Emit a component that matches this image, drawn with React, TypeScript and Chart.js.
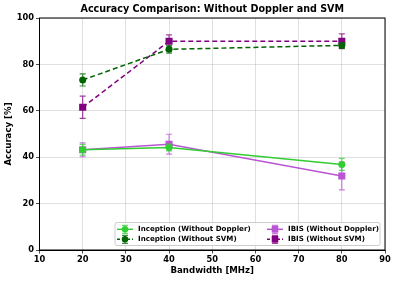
import React, { useEffect, useRef } from "react";
import { Chart, registerables } from "chart.js";

Chart.register(...registerables);

const bandwidths = [20, 40, 80];
const inceptionWD = [43.2, 44.2, 36.9];
const inceptionWDErr = [2.3, 1.5, 2.6];
const inceptionWS = [73.3, 86.5, 88.2];
const inceptionWSErr = [2.6, 1.6, 1.2];
const ibisWD = [43.2, 45.6, 31.9];
const ibisWDErr = [3.0, 4.3, 6.0];
const ibisWS = [61.5, 90.0, 90.0];
const ibisWSErr = [4.8, 2.7, 3.2];
const xTicks = [10, 20, 30, 40, 50, 60, 70, 80, 90];
const yTicks = [0, 20, 40, 60, 80, 100];

const FONT = "'DejaVu Sans', sans-serif";

const seriesDefs = [
  { label: "Inception (Without Doppler)", data: inceptionWD, err: inceptionWDErr, color: "#32CD32", errColor: "rgba(50,205,50,0.75)", dash: [] as number[], style: "circle" },
  { label: "Inception (Without SVM)", data: inceptionWS, err: inceptionWSErr, color: "#006400", errColor: "rgba(0,100,0,0.75)", dash: [5, 3], style: "circle" },
  { label: "IBIS (Without Doppler)", data: ibisWD, err: ibisWDErr, color: "#BA55D3", errColor: "rgba(186,85,211,0.75)", dash: [] as number[], style: "rect" },
  { label: "IBIS (Without SVM)", data: ibisWS, err: ibisWSErr, color: "#800080", errColor: "rgba(128,0,128,0.75)", dash: [5, 3], style: "rect" },
];

const errorBarPlugin = {
  id: "errorBars",
  beforeDatasetDraw(chart: any, args: any) {
    const def = seriesDefs[args.index];
    const xs = chart.scales.x;
    const ys = chart.scales.y;
    const ctx = chart.ctx;
    ctx.save();
    ctx.strokeStyle = def.errColor;
    ctx.lineWidth = 1.2;
    def.data.forEach((v: number, i: number) => {
      const x = xs.getPixelForValue(bandwidths[i]);
      const yt = ys.getPixelForValue(v + def.err[i]);
      const yb = ys.getPixelForValue(v - def.err[i]);
      ctx.beginPath();
      ctx.moveTo(x, yt);
      ctx.lineTo(x, yb);
      ctx.moveTo(x - 3, yt);
      ctx.lineTo(x + 3, yt);
      ctx.moveTo(x - 3, yb);
      ctx.lineTo(x + 3, yb);
      ctx.stroke();
    });
    ctx.restore();
  },
};

const framePlugin = {
  id: "frame",
  afterDraw(chart: any) {
    const ctx = chart.ctx;
    const a = chart.chartArea;
    ctx.save();
    ctx.strokeStyle = "#000";
    ctx.lineWidth = 1;
    ctx.strokeRect(a.left, a.top, a.right - a.left, a.bottom - a.top);
    // title
    ctx.fillStyle = "#000";
    ctx.font = `bold 9.6px ${FONT}`;
    ctx.textAlign = "center";
    ctx.textBaseline = "middle";
    ctx.fillText("Accuracy Comparison: Without Doppler and SVM", (a.left + a.right) / 2, 9);
    // legend
    const bx = 115, by = 222.5, bw = 265, bh = 23;
    ctx.fillStyle = "rgba(255,255,255,0.85)";
    ctx.strokeStyle = "#cccccc";
    ctx.beginPath();
    (ctx as any).roundRect(bx, by, bw, bh, 2);
    ctx.fill();
    ctx.stroke();
    const pos = [
      [117, 229.3],
      [117, 239.3],
      [267, 229.3],
      [267, 239.3],
    ];
    seriesDefs.forEach((d, i) => {
      const [lx, ly] = pos[i];
      ctx.strokeStyle = d.color;
      ctx.lineWidth = 1.5;
      ctx.setLineDash(d.dash.length ? [3, 2] : []);
      ctx.beginPath();
      ctx.moveTo(lx, ly);
      ctx.lineTo(lx + 16, ly);
      ctx.stroke();
      ctx.setLineDash([]);
      const cx = lx + 8;
      ctx.strokeStyle = d.errColor;
      ctx.lineWidth = 1.2;
      ctx.beginPath();
      ctx.moveTo(cx, ly - 4);
      ctx.lineTo(cx, ly + 4);
      ctx.moveTo(cx - 3, ly - 4);
      ctx.lineTo(cx + 3, ly - 4);
      ctx.moveTo(cx - 3, ly + 4);
      ctx.lineTo(cx + 3, ly + 4);
      ctx.stroke();
      ctx.fillStyle = d.color;
      ctx.beginPath();
      if (d.style === "circle") {
        ctx.arc(cx, ly, 3.2, 0, Math.PI * 2);
      } else {
        ctx.rect(cx - 3.3, ly - 3.3, 6.6, 6.6);
      }
      ctx.fill();
      ctx.fillStyle = "#000";
      ctx.font = `bold 7.1px ${FONT}`;
      ctx.textAlign = "left";
      ctx.textBaseline = "middle";
      ctx.fillText(d.label, lx + 21, ly);
    });
    ctx.restore();
  },
};

export default function App() {
  const ref = useRef<HTMLCanvasElement>(null);
  useEffect(() => {
    if (!ref.current) return;
    const chart = new Chart(ref.current, {
      type: "line",
      data: {
        datasets: seriesDefs.map((d) => ({
          label: d.label,
          data: d.data.map((v, i) => ({ x: bandwidths[i], y: v })),
          borderColor: d.color,
          backgroundColor: d.color,
          borderWidth: 1.5,
          borderDash: d.dash,
          pointStyle: d.style as any,
          pointRadius: d.style === "circle" ? 3.5 : 5,
          pointBorderWidth: 0,
          tension: 0,
        })),
      },
      options: {
        animation: false,
        responsive: false,
        layout: { padding: { top: 18, right: 12, left: 0, bottom: 0 } },
        plugins: {
          legend: { display: false },
          title: { display: false },
          tooltip: { enabled: false },
        },
        scales: {
          x: {
            type: "linear",
            min: 10,
            max: 90,
            afterBuildTicks: (s: any) => {
              s.ticks = xTicks.map((v) => ({ value: v }));
            },
            afterFit: (s: any) => {
              s.height = 31;
            },
            ticks: {
              color: "#000",
              font: { family: FONT, size: 8.3, weight: "bold" },
              padding: 1,
              maxRotation: 0,
            },
            grid: {
              color: "rgba(180,180,180,0.6)",
              borderDash: [2, 2],
              tickColor: "#000",
              tickBorderDash: [],
              tickLength: 3.5,
              lineWidth: 0.7,
            } as any,
            border: { color: "#000", width: 1 } as any,
            title: {
              display: true,
              text: "Bandwidth [MHz]",
              color: "#000",
              font: { family: FONT, size: 8.6, weight: "bold" },
              padding: { top: 0, bottom: 5 },
            },
          },
          y: {
            type: "linear",
            min: 0,
            max: 100,
            afterBuildTicks: (s: any) => {
              s.ticks = yTicks.map((v) => ({ value: v }));
            },
            afterFit: (s: any) => {
              s.width = 39.5;
            },
            ticks: {
              color: "#000",
              font: { family: FONT, size: 8.3, weight: "bold" },
              padding: 2,
            },
            grid: {
              color: "rgba(180,180,180,0.6)",
              borderDash: [2, 2],
              tickColor: "#000",
              tickBorderDash: [],
              tickLength: 3.5,
              lineWidth: 0.7,
            } as any,
            border: { color: "#000", width: 1 } as any,
            title: {
              display: true,
              text: "Accuracy [%]",
              color: "#000",
              font: { family: FONT, size: 8.6, weight: "bold" },
              padding: { top: 4, bottom: 0 },
            },
          },
        },
      },
      plugins: [errorBarPlugin, framePlugin],
    });
    return () => chart.destroy();
  }, []);
  return (
    <div style={{ position: "fixed", left: 0, top: 0, width: 397, height: 281, background: "#fff" }}>
      <canvas ref={ref} width={397} height={281} style={{ width: 397, height: 281 }} />
    </div>
  );
}
